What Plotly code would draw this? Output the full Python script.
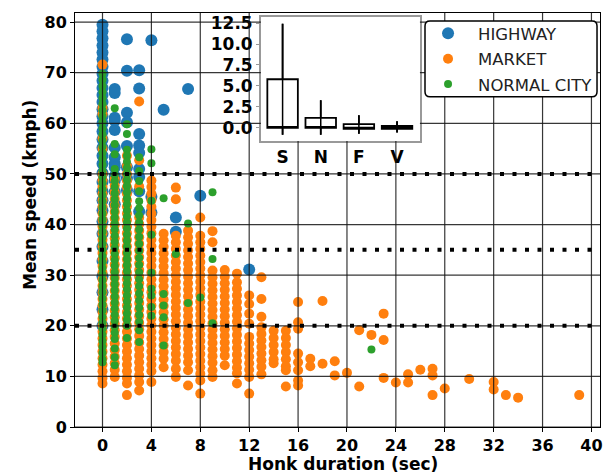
import plotly.graph_objects as go

# Honk duration (s) -> mean speed samples (km/h), one dict per road type
highway = {
    0: [79.5, 78.2, 76.8, 75.4, 74.0, 72.6, 71.2, 69.8, 68.4, 67.0, 65.6, 64.2, 62.8,
        61.4, 60.0, 58.4, 56.8, 55.2, 53.6, 52.0, 50.2, 48.4, 46.6, 44.8, 42.8, 40.6,
        38.2, 35.6, 32.8, 29.8, 26.6, 23.2, 20.0],
    1: [66.8, 66.0, 61.1, 60.5, 58.7, 55.2, 53.3, 52.0, 51.3, 49.6, 48.7, 46.5, 44.0],
    2: [76.6, 70.4, 62.1, 60.2, 55.5, 51.3, 49.2, 46.8],
    3: [70.5, 66.9, 57.9, 55.6, 54.2, 51.0, 49.4, 46.6, 42.6],
    4: [76.4, 45.5, 42.4],
    5: [62.7],
    6: [41.4, 38.6],
    7: [66.8],
    8: [45.7],
    12: [31.1],
}

market = {
    0: [71.6, 63.0, 61.8, 57.0, 55.0, 50.0, 48.7, 47.4, 46.1, 44.8, 43.5, 42.2, 40.9,
        39.6, 38.3, 37.0, 35.7, 34.4, 33.1, 31.8, 30.5, 29.2, 27.9, 26.6, 25.3, 24.0,
        22.7, 21.4, 20.1, 18.8, 17.5, 16.2, 14.9, 13.6, 12.3, 11.0, 9.7, 8.6],
    1: [49.0, 47.7, 46.4, 45.1, 43.8, 42.5, 41.2, 39.9, 38.6, 37.3, 36.0, 34.7, 33.4,
        32.1, 30.8, 29.5, 28.2, 26.9, 25.6, 24.3, 23.0, 21.7, 20.4, 19.1, 17.8, 16.5,
        15.2, 13.9, 12.6, 11.3, 9.9],
    2: [53.6, 51.6, 50.0, 48.7, 47.4, 46.1, 44.8, 43.5, 42.2, 40.9, 39.6, 38.3, 37.0,
        35.7, 34.4, 33.1, 31.8, 30.5, 29.2, 27.9, 26.6, 25.3, 24.0, 22.7, 21.4, 20.1,
        18.8, 17.5, 16.2, 14.9, 13.6, 12.3, 11.0, 9.7, 8.6, 6.3],
    3: [64.3, 52.7, 47.5, 41.4, 40.1, 38.8, 37.5, 36.2, 34.9, 33.6, 32.3, 31.0, 29.7,
        28.4, 27.1, 25.8, 24.5, 23.2, 21.9, 20.6, 19.3, 18.0, 16.7, 15.4, 14.1, 12.8,
        11.5, 10.2, 8.9, 7.2],
    4: [48.7, 47.4, 46.1, 44.8, 43.5, 42.2, 40.9, 39.6, 38.3, 37.0, 35.7, 34.4, 33.1,
        31.8, 30.5, 29.2, 27.9, 26.6, 25.3, 24.0, 22.7, 21.4, 20.1, 18.8, 17.5, 16.2,
        14.9, 13.6, 12.3, 11.0, 8.9],
    5: [38.2, 36.9, 35.6, 34.3, 33.0, 31.7, 30.4, 29.1, 27.8, 26.5, 25.2, 23.9, 22.6,
        21.3, 20.0, 18.7, 17.4, 16.1, 14.8, 13.5, 11.8],
    6: [47.3, 45.0, 37.8, 36.5, 35.2, 33.9, 32.6, 31.3, 30.0, 28.7, 27.4, 26.1, 24.8,
        23.5, 22.2, 20.9, 19.6, 18.3, 17.0, 15.7, 14.4, 13.1, 11.5, 9.9],
    7: [38.8, 37.5, 36.2, 34.9, 33.6, 32.3, 31.0, 29.7, 28.4, 27.1, 25.8, 24.5, 23.2,
        21.9, 20.6, 19.3, 18.0, 16.7, 15.4, 14.1, 12.8, 11.2, 8.2],
    8: [41.4, 37.8, 36.5, 35.2, 33.9, 32.6, 31.3, 30.0, 28.7, 27.4, 26.1, 24.8, 23.5,
        22.2, 20.9, 19.6, 18.3, 17.0, 15.7, 14.4, 13.1, 11.8, 10.5, 9.2, 6.6],
    9: [38.7, 36.5, 30.9, 29.6, 28.3, 27.0, 25.7, 24.4, 23.1, 21.8, 20.5, 19.2, 17.9,
        16.6, 15.3, 14.0, 12.7, 11.2, 9.9],
    10: [31.0, 29.7, 28.4, 27.1, 25.8, 24.5, 23.2, 21.9, 20.6, 19.3, 18.0, 16.7, 15.4,
         14.1, 12.2],
    11: [30.3, 28.6, 27.3, 26.0, 24.7, 23.4, 22.1, 20.8, 19.5, 18.2, 16.9, 15.6, 14.3,
         13.0, 11.7, 10.6, 8.6],
    12: [26.0, 24.3, 22.4, 20.4, 17.8, 16.5, 15.2, 13.9, 12.6, 11.3, 9.9, 6.6],
    13: [29.6, 25.3, 21.8, 19.7, 18.4, 17.1, 15.8, 14.5, 13.2, 11.9, 10.4],
    14: [19.0, 17.6, 16.2, 14.8, 13.4, 12.6],
    15: [19.0, 17.6, 16.2, 14.8, 13.4, 12.0, 11.2, 8.0],
    16: [24.7, 20.7, 19.4, 14.5, 12.8, 11.2, 9.2, 8.2],
    17: [13.5, 12.0],
    18: [24.9, 12.5],
    19: [13.0, 10.2],
    20: [10.7],
    21: [19.1, 8.0],
    22: [18.2],
    23: [22.4, 17.2, 9.7],
    24: [8.8],
    25: [10.4, 8.8],
    26: [11.3],
    27: [11.5, 10.2, 6.3],
    28: [7.6],
    30: [9.5],
    32: [8.9, 7.4],
    33: [6.3],
    34: [5.8],
    39: [6.3],
}

normal_city = {
    0: [69.8, 68.6, 67.4, 66.2, 65.0, 63.8, 62.6, 61.4, 60.2, 59.0, 57.8, 56.6, 55.4,
        54.2, 53.0, 51.8, 50.6, 49.4, 48.2, 47.0, 45.8, 44.6, 43.4, 42.2, 41.0, 39.8,
        38.6, 37.4, 36.2, 35.0, 33.8, 32.6, 31.4, 30.2, 29.0, 27.8, 26.6, 25.4, 24.2,
        23.0, 21.8, 20.6, 19.4, 18.2, 17.0, 15.8, 14.6, 13.4, 12.8],
    1: [63.0, 55.9, 53.9, 51.0, 49.8, 48.6, 47.4, 46.2, 45.0, 43.8, 42.6, 41.4, 40.2,
        39.0, 37.8, 36.6, 35.4, 34.2, 33.0, 31.8, 30.6, 29.4, 28.2, 27.0, 25.8, 24.6,
        23.4, 22.2, 21.0, 19.8, 18.6, 17.4, 15.5, 13.8, 12.2],
    2: [59.8, 57.9, 54.8, 53.6, 52.4, 51.2, 50.0, 48.8, 47.6, 46.4, 45.2, 44.0, 42.8,
        41.6, 40.4, 39.2, 38.0, 36.8, 35.6, 34.4, 33.2, 32.0, 30.8, 29.6, 28.4, 27.2,
        26.0, 24.8, 23.6, 22.4, 21.2, 20.0, 17.6],
    3: [53.3, 50.6, 48.6, 46.6, 44.6, 43.2, 41.8, 40.4, 39.0, 37.6, 36.2, 34.8, 33.4,
        32.0, 30.6, 29.2, 27.8, 26.4, 25.0, 23.6, 22.2, 20.8, 19.1, 16.8],
    4: [54.9, 52.1, 44.7, 38.0, 30.5, 27.3, 26.0, 23.7, 22.0],
    5: [45.2, 26.3, 24.0, 21.7, 16.1],
    6: [34.2],
    7: [40.2, 24.5],
    8: [25.6],
    9: [46.4, 33.2, 20.5],
    22: [15.3],
}

# Honk duration summary per vehicle class (inset)
inset_classes = ["S", "N", "F", "V"]
inset_q1 = [0.0, 0.0, -0.1, -0.1]
inset_median = [0.0, 0.0, -0.1, -0.1]
inset_q3 = [5.8, 1.2, 0.45, 0.25]
inset_low = [-0.8, -0.8, -0.7, -0.55]
inset_high = [12.4, 3.3, 1.5, 0.8]
inset_yticks = [0.0, 2.5, 5.0, 7.5, 10.0, 12.5]

x_ticks = list(range(0, 41, 4))
y_ticks = list(range(0, 81, 10))
speed_bands = [20, 35, 50]

X_RANGE = [-2.25, 40.7]
Y_RANGE = [0, 81.8]
INSET_X_DOMAIN = [0.354, 0.657]
INSET_Y_DOMAIN = [0.691, 0.990]

BOLD = dict(family="DejaVu Sans", color="black", weight="bold")


def flatten(groups):
    xs, ys = [], []
    for honk, speeds in groups.items():
        xs.extend([honk] * len(speeds))
        ys.extend(speeds)
    return xs, ys


fig = go.Figure()

series = [
    ("HIGHWAY", highway, "#1f77b4", 12),
    ("MARKET", market, "#ff7f0e", 10),
    ("NORMAL CITY", normal_city, "#2ca02c", 8),
]
for name, groups, color, size in series:
    xs, ys = flatten(groups)
    fig.add_trace(go.Scatter(
        x=xs, y=ys, mode="markers", name=name, legendgroup=name,
        marker=dict(color=color, size=size, line=dict(width=0)),
    ))

# Inset box summary
fig.add_trace(go.Box(
    x=inset_classes, q1=inset_q1, median=inset_median, q3=inset_q3,
    lowerfence=inset_low, upperfence=inset_high,
    xaxis="x2", yaxis="y2", width=0.8, whiskerwidth=0,
    fillcolor="rgba(255,255,255,0)", line=dict(color="black", width=1.8),
    boxpoints=False, showlegend=False, hoverinfo="skip",
))
seg_x, seg_y = [], []
for c, lo, hi in zip(inset_classes, inset_low, inset_high):
    seg_x += [c, c, None]
    seg_y += [lo, hi, None]
fig.add_trace(go.Scatter(
    x=seg_x, y=seg_y, mode="lines", xaxis="x2", yaxis="y2",
    line=dict(color="black", width=1.5), showlegend=False, hoverinfo="skip",
))


def to_data(frac, rng):
    return rng[0] + (rng[1] - rng[0]) * frac


# Inset extent expressed in main-axis data units
ix0 = to_data(INSET_X_DOMAIN[0], X_RANGE)
ix1 = to_data(INSET_X_DOMAIN[1], X_RANGE)
iy0 = to_data(INSET_Y_DOMAIN[0], Y_RANGE)

shapes = []
grid_line = dict(color="rgba(20,20,20,0.85)", width=1.2)
for xv in x_ticks:
    top = iy0 if ix0 <= xv <= ix1 else Y_RANGE[1]
    shapes.append(dict(type="line", xref="x", yref="y", x0=xv, x1=xv,
                       y0=Y_RANGE[0], y1=top, line=grid_line, layer="above"))
for yv in y_ticks:
    if yv > iy0:
        segs = [(X_RANGE[0], ix0), (ix1, X_RANGE[1])]
    else:
        segs = [(X_RANGE[0], X_RANGE[1])]
    for a, b in segs:
        shapes.append(dict(type="line", xref="x", yref="y", x0=a, x1=b,
                           y0=yv, y1=yv, line=grid_line, layer="above"))

for yv in speed_bands:
    shapes.append(dict(type="line", xref="x", yref="y", x0=X_RANGE[0], x1=X_RANGE[1],
                       y0=yv, y1=yv, layer="above",
                       line=dict(color="black", width=4, dash="4px,8.5px")))

# Rounded legend frame
W, H = 612, 475
ML, MR, MT, MB = 75, 9, 12, 48
pw, ph = W - ML - MR, H - MT - MB


def px_x(p):
    return (p - ML) / pw


def px_y(p):
    return (H - MB - p) / ph


lx0, lx1, ly0, ly1 = px_x(427), px_x(600), px_y(96), px_y(20)
rx, ry = 5 / pw, 5 / ph
path = (f"M {lx0 + rx},{ly0} L {lx1 - rx},{ly0} Q {lx1},{ly0} {lx1},{ly0 + ry} "
        f"L {lx1},{ly1 - ry} Q {lx1},{ly1} {lx1 - rx},{ly1} "
        f"L {lx0 + rx},{ly1} Q {lx0},{ly1} {lx0},{ly1 - ry} "
        f"L {lx0},{ly0 + ry} Q {lx0},{ly0} {lx0 + rx},{ly0} Z")
shapes.append(dict(type="path", xref="paper", yref="paper", path=path,
                   fillcolor="white", line=dict(color="black", width=1.5),
                   layer="above"))

fig.update_layout(
    width=W, height=H,
    margin=dict(l=ML, r=MR, t=MT, b=MB),
    paper_bgcolor="white", plot_bgcolor="white",
    shapes=shapes,
    showlegend=True,
    legend=dict(
        x=px_x(420), y=px_y(15), xanchor="left", yanchor="top",
        bgcolor="rgba(0,0,0,0)", borderwidth=0, itemwidth=50,
        font=dict(family="DejaVu Sans", size=16.5, color="#222"),
        tracegroupgap=1, itemsizing="trace",
    ),
    xaxis=dict(
        range=X_RANGE, tickvals=x_ticks, showgrid=False, zeroline=False,
        showline=True, mirror=True, linecolor="black", linewidth=1,
        ticks="outside", ticklen=4, tickcolor="black",
        tickfont=dict(size=16, **BOLD),
    ),
    yaxis=dict(
        range=Y_RANGE, tickvals=y_ticks, showgrid=False, zeroline=False,
        showline=True, mirror=True, linecolor="black", linewidth=1,
        ticks="outside", ticklen=4, tickcolor="black",
        tickfont=dict(size=16, **BOLD),
    ),
    xaxis2=dict(
        domain=INSET_X_DOMAIN, anchor="y2", type="category",
        categoryorder="array", categoryarray=inset_classes,
        range=[-0.57, 3.6], showgrid=False, zeroline=False,
        showline=True, mirror=True, linecolor="#999", linewidth=1.5,
        ticks="", tickfont=dict(size=17, **BOLD),
    ),
    yaxis2=dict(
        domain=INSET_Y_DOMAIN, anchor="x2", range=[-1.55, 13.2],
        tickvals=inset_yticks, tickformat=".1f", showgrid=False, zeroline=False,
        showline=True, mirror=True, linecolor="#999", linewidth=1.5,
        ticks="outside", ticklen=3, tickcolor="#999",
        tickfont=dict(size=17, **BOLD),
    ),
    annotations=[
        dict(text="Honk duration (sec)", xref="paper", yref="paper",
             x=px_x(345), y=px_y(464), xanchor="center", yanchor="middle",
             showarrow=False, font=dict(size=17, **BOLD)),
        dict(text="Mean speed (kmph)", xref="paper", yref="paper",
             x=px_x(29), y=px_y(194), xanchor="center", yanchor="middle",
             textangle=-90, showarrow=False, font=dict(size=17, **BOLD)),
    ],
)

fig.write_html("out.html")
